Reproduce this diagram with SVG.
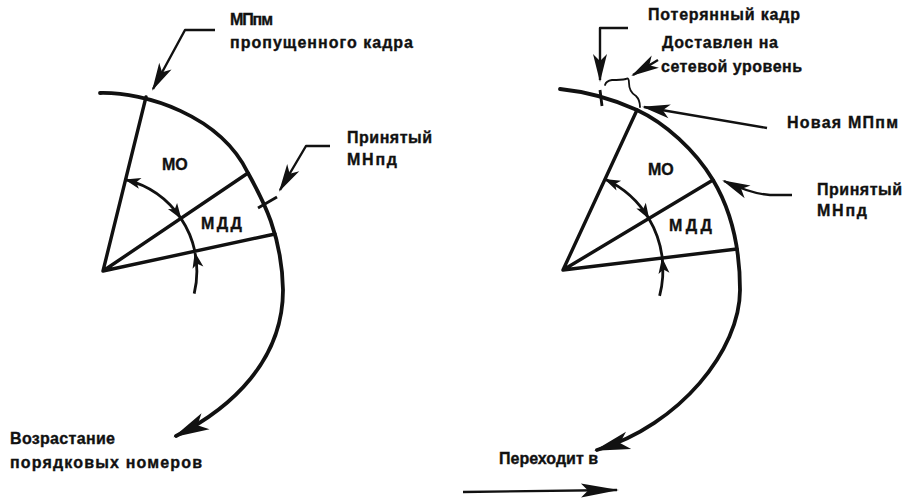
<svg xmlns="http://www.w3.org/2000/svg" width="905" height="498" viewBox="0 0 905 498">
<style>
.t{font-family:"Liberation Sans",Arial,sans-serif;font-weight:bold;font-size:16px;fill:#111;stroke:#111;stroke-width:0.35}
.arc{fill:none;stroke:#111;stroke-width:3.8;stroke-linecap:round}
.rad{fill:none;stroke:#111;stroke-width:3.4;stroke-linecap:round;stroke-linejoin:round}
.in{fill:none;stroke:#111;stroke-width:2.8}
.ld{fill:none;stroke:#111;stroke-width:2.4;stroke-linejoin:round}
.tk{fill:none;stroke:#111;stroke-width:2.8}
.sq{fill:none;stroke:#111;stroke-width:1.8;stroke-linecap:round}
</style>
<defs>
<marker id="aS" markerUnits="userSpaceOnUse" viewBox="-18 -8 20 16" refX="0" refY="0" markerWidth="20" markerHeight="16" orient="auto-start-reverse"><path d="M1,0 L-15,-5.5 L-11,0 L-15,5.5 Z" fill="#111"/></marker>
<marker id="aL" markerUnits="userSpaceOnUse" viewBox="-28 -9 30 18" refX="0" refY="0" markerWidth="30" markerHeight="18" orient="auto"><path d="M2,0 L-26,-7 L-19,0 L-26,7 Z" fill="#111"/></marker>
<marker id="aB" markerUnits="userSpaceOnUse" viewBox="-36 -11 39 22" refX="0" refY="0" markerWidth="39" markerHeight="22" orient="auto"><path d="M3,0 L-33,-9 L-24,0 L-33,9 Z" fill="#111"/></marker>
<marker id="aN" markerUnits="userSpaceOnUse" viewBox="-38 -8 40 16" refX="0" refY="0" markerWidth="40" markerHeight="16" orient="auto"><path d="M2,0 L-36,-7 L-29,0 L-36,7 Z" fill="#111"/></marker>
</defs>

<g id="left-window">
<path class="arc" d="M100,93 C145,92 220,115 248,173 C263,200 282,235 283,290 C283,360 232,408 176,436" marker-end="url(#aB)"/>
<path class="rad" d="M146,97 L103,271 L248,173 M103,271 L275,234"/>
<path class="in" d="M125.6,179.7 A94,94 0 0 1 180.9,218.4" marker-start="url(#aS)" marker-end="url(#aS)"/>
<path class="in" d="M180.9,218.4 A94,94 0 0 1 195,251.8"/>
<path class="in" d="M194.2,293.7 A94,94 0 0 0 195,253" marker-end="url(#aS)"/>
<path class="tk" d="M258,208 L277,197"/>
<text class="t" x="162" y="170">МО</text>
<text class="t" x="201" y="229" textLength="41">МДД</text>
</g>

<g id="right-window">
<path class="arc" d="M560,89 C590,92 615,100 637,110 C665,123 695,150 713,180 C728,205 740,240 740,290 C740,350 680,425 597,450" marker-end="url(#aB)"/>
<path class="rad" d="M637,110 L563,270 L713,180 M563,270 L737,249"/>
<path class="in" d="M605.2,179.3 A100,100 0 0 1 648.8,218.5" marker-start="url(#aS)" marker-end="url(#aS)"/>
<path class="in" d="M648.8,218.5 A100,100 0 0 1 662.2,257.5"/>
<path class="in" d="M659.6,295.9 A100,100 0 0 0 662.2,258.5" marker-end="url(#aS)"/>
<path class="tk" d="M600,90 L602,106"/>
<path class="sq" d="M605,85 Q606,81 612,80 Q621,80 626,79 Q629,77 629,83 Q629,92 636,96 Q640,100 640,107"/>
<text class="t" x="648" y="175">МО</text>
<text class="t" x="669" y="231" textLength="43">МДД</text>
</g>

<g id="connectors">
<path class="ld" d="M215,30 L185,30 L153,89" marker-end="url(#aL)"/>
<path class="ld" d="M330,146 L306,146 L280,190" marker-end="url(#aL)"/>
<path class="ld" d="M792,195 L770,195 Q752,194 724,181" marker-end="url(#aL)"/>
<path class="ld" d="M628,28 L600,28 L600,80" marker-end="url(#aL)"/>
<path class="ld" d="M658,60 L633,75" marker-end="url(#aL)"/>
<path class="ld" d="M767,128 L644,107" marker-end="url(#aL)"/>
<path class="ld" d="M463,492 L617,490" marker-end="url(#aN)"/>
</g>

<g id="label-missed">
<text class="t" x="230" y="25" textLength="43">МПпм</text>
<text class="t" x="230" y="48" textLength="183">пропущенного кадра</text>
</g>
<g id="label-accepted-left">
<text class="t" x="347" y="143" textLength="85">Принятый</text>
<text class="t" x="347" y="165" textLength="50">МНпд</text>
</g>
<g id="label-increase">
<text class="t" x="10" y="444" textLength="105">Возрастание</text>
<text class="t" x="10" y="468" textLength="192">порядковых номеров</text>
</g>
<g id="label-lost">
<text class="t" x="648" y="20" textLength="152">Потерянный кадр</text>
</g>
<g id="label-delivered">
<text class="t" x="662" y="48" textLength="116">Доставлен на</text>
<text class="t" x="661" y="72" textLength="141">сетевой уровень</text>
</g>
<g id="label-new">
<text class="t" x="787" y="128" textLength="111">Новая МПпм</text>
</g>
<g id="label-accepted-right">
<text class="t" x="817" y="195" textLength="85">Принятый</text>
<text class="t" x="817" y="216" textLength="50">МНпд</text>
</g>
<g id="label-transition">
<text class="t" x="499" y="464">Переходит в</text>
</g>
</svg>
